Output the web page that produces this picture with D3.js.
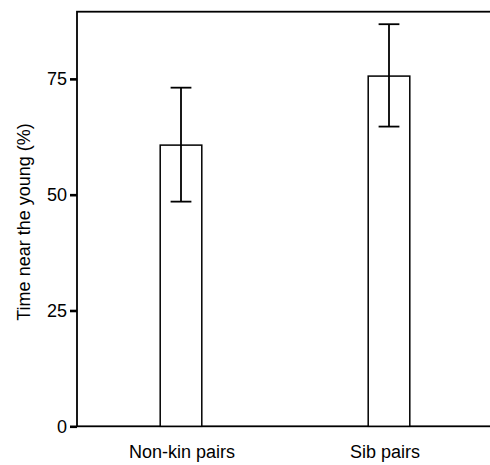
<!DOCTYPE html>
<html>
<head>
<meta charset="utf-8">
<script src="https://cdn.jsdelivr.net/npm/d3@7/dist/d3.min.js"></script>
<style>
  html, body { margin: 0; padding: 0; background: #fff; }
  svg { display: block; }
  text { font-family: "Liberation Sans", Arial, Helvetica, sans-serif; fill: #000; }
</style>
</head>
<body>
<svg id="chart" width="490" height="465"></svg>
<script>
const categories = ["Non-kin pairs", "Sib pairs"];
const means = [60.7, 75.6];
const upper = [73.1, 86.8];
const lower = [48.5, 64.7];
const yTicks = [0, 25, 50, 75];
const yLabel = "Time near the young (%)";

(function () {
const svg = d3.select("#chart");
const mLeft = 77, mRight = 493, mTop = 11.7, mBottom = 426.3;
const fs = "18px";

const x = d3.scaleBand().domain(categories).range([mLeft, mRight])
  .paddingInner(0.8).paddingOuter(0.4);
const y = d3.scaleLinear().domain([0, 89.5]).range([mBottom, mTop]);

// frame (top + left + bottom; right side runs off the canvas)
svg.append("rect")
  .attr("x", mLeft).attr("y", mTop)
  .attr("width", mRight - mLeft).attr("height", mBottom - mTop)
  .attr("fill", "none").attr("stroke", "#000").attr("stroke-width", 1.8);

// bars
const data = categories.map((c, i) => ({c, m: means[i], hi: upper[i], lo: lower[i]}));
svg.selectAll("rect.bar").data(data).enter().append("rect")
  .attr("class", "bar")
  .attr("x", d => x(d.c))
  .attr("y", d => y(d.m))
  .attr("width", x.bandwidth())
  .attr("height", d => y(0) - y(d.m))
  .attr("fill", "#fff").attr("stroke", "#000").attr("stroke-width", 1.5);

// error bars
const cap = x.bandwidth() / 2;
const cx = d => x(d.c) + x.bandwidth() / 2;
const eb = svg.selectAll("g.err").data(data).enter().append("g").attr("class", "err")
  .attr("stroke", "#000").attr("stroke-width", 1.8);
eb.append("line")
  .attr("x1", cx).attr("x2", cx)
  .attr("y1", d => y(d.hi)).attr("y2", d => y(d.lo));
eb.append("line")
  .attr("x1", d => cx(d) - cap / 2).attr("x2", d => cx(d) + cap / 2)
  .attr("y1", d => y(d.hi)).attr("y2", d => y(d.hi));
eb.append("line")
  .attr("x1", d => cx(d) - cap / 2).attr("x2", d => cx(d) + cap / 2)
  .attr("y1", d => y(d.lo)).attr("y2", d => y(d.lo));

// y axis
const yAxis = svg.append("g").attr("transform", `translate(${mLeft},0)`)
  .call(d3.axisLeft(y).tickValues(yTicks).tickSize(7).tickPadding(3));
yAxis.select(".domain").remove();
yAxis.selectAll(".tick line").attr("stroke", "#000").attr("stroke-width", 2.6);
yAxis.selectAll(".tick text").attr("font-size", fs).attr("fill", "#000")
  .style("font-family", '"Liberation Sans", Arial, sans-serif');

// x axis labels
const xAxis = svg.append("g").attr("transform", `translate(0,${mBottom})`)
  .call(d3.axisBottom(x).tickSize(0).tickPadding(19));
xAxis.select(".domain").remove();
xAxis.selectAll(".tick text").attr("font-size", fs).attr("fill", "#000")
  .style("font-family", '"Liberation Sans", Arial, sans-serif')
  .attr("dx", (d, i) => i === 1 ? -4 : 1);

// y label
svg.append("text")
  .attr("transform", `translate(30,222) rotate(-90)`)
  .attr("text-anchor", "middle")
  .attr("font-size", fs)
  .text(yLabel);
})();
</script>
</body>
</html>
